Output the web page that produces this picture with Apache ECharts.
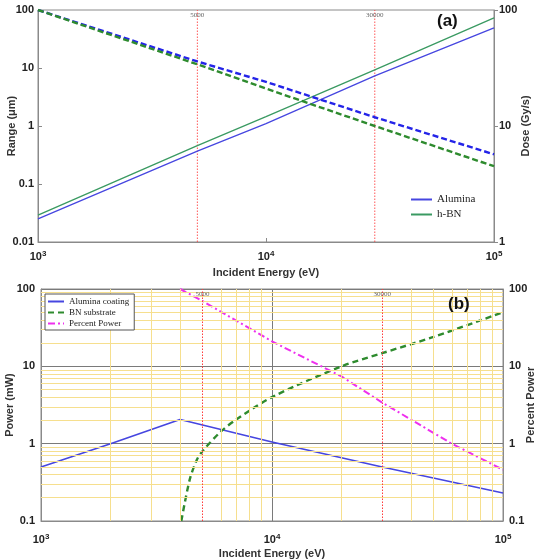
<!DOCTYPE html>
<html>
<head>
<meta charset="utf-8">
<script src="https://cdn.jsdelivr.net/npm/echarts@6/dist/echarts.min.js"></script>
<style>
  html, body { margin: 0; padding: 0; background: #fff; }
  #chart { width: 542px; height: 560px; }
</style>
</head>
<body>
<div id="chart"></div>
<script>
// panel (a): range and dose vs incident energy
const energyA = [1000, 5000, 10000, 30000, 100000]
const rangeAlumina = [0.025, 0.37, 1.1, 7.3, 49]
const rangeHBN = [0.029, 0.46, 1.45, 9.3, 73]
const doseAlumina = [100, 36, 24, 11.9, 5.7]
const doseHBN = [100, 34, 21, 10, 4.5]

// panel (b): power
const energyBlue = [1000, 2000, 4000, 10000, 30000, 100000]
const powerAlumina = [0.5, 1.0, 2.05, 1.05, 0.5, 0.23]
const energyGreen = [4050, 4400, 4730, 5000, 6000, 7000, 10000, 20000, 30000, 50000, 100000]
const powerBN = [0.1, 0.34, 0.62, 0.8, 1.43, 2.05, 4.0, 10, 14.8, 24, 50]
const energyPct = [4000, 5000, 10000, 20000, 30000, 60000, 100000]
const percentPower = [100, 70, 21, 7.4, 3.4, 1.0, 0.46]

// marker energies and minor grid values
const markerEnergies = [5000, 30000]
const minorX = [2000, 3000, 4000, 6000, 7000, 8000, 9000,
  20000, 40000, 50000, 60000, 70000, 80000, 90000]
const minorY = [0.2, 0.3, 0.4, 0.5, 0.6, 0.7, 0.8, 0.9,
  2, 3, 4, 5, 6, 7, 8, 9, 20, 30, 40, 50, 60, 70, 80, 90]

const DOSE_MIN = 1
const DOSE_MAX = 100

const pairs = (xs, ys) => xs.map((x, i) => [x, ys[i]])

const SANS = 'Liberation Sans, Arial, sans-serif'
const SERIF = 'Liberation Serif, Times New Roman, serif'
const AXIS_GRAY = '#8a8a8a'
const MARK_RED = '#ff3b3b'
const MARK_DASH = [1.5, 1.5]

const supLabel = {
  formatter: v => '{a|10}{b|' + Math.round(Math.log10(v)) + '}',
  rich: {
    a: { fontSize: 11, fontWeight: 'bold', color: '#222', fontFamily: SANS },
    b: { fontSize: 8, fontWeight: 'bold', color: '#222', fontFamily: SANS, verticalAlign: 'top', padding: [0, 0, 6, 0] }
  }
}
const numLabel = m => ({
  margin: m,
  fontSize: 11,
  fontWeight: 'bold',
  color: '#222',
  fontFamily: SANS,
  formatter: v => String(+(+v).toPrecision(3))
})
const nameStyle = { fontSize: 11, fontWeight: 'bold', color: '#333', fontFamily: SANS }

const markerLines = lineColor => ({
  silent: true,
  symbol: 'none',
  lineStyle: { color: lineColor, type: MARK_DASH, width: 1 },
  label: {
    show: true,
    position: 'end',
    distance: -9,
    formatter: p => String(p.value),
    fontSize: 7,
    color: '#666',
    fontFamily: SERIF
  },
  data: markerEnergies.map(e => ({ xAxis: e }))
})

// (a) vertical marker lines drawn as plain series on the dose axis
const markerSeriesA = markerEnergies.map(e => ({
  type: 'line', xAxisIndex: 0, yAxisIndex: 1, symbol: 'none', z: 2, silent: true,
  lineStyle: { color: MARK_RED, type: MARK_DASH, width: 1, opacity: 0.85 },
  data: [[e, DOSE_MIN], [e, DOSE_MAX]]
}))

const option = {
  animation: false,
  backgroundColor: '#fff',
  title: [
    { text: '(a)', left: 432, top: 8, textStyle: { fontSize: 17, fontWeight: 'bold', color: '#111', fontFamily: SANS } },
    { text: '(b)', left: 443, top: 291, textStyle: { fontSize: 17, fontWeight: 'bold', color: '#111', fontFamily: SANS } }
  ],
  legend: [
    {
      data: ['Alumina', 'h-BN'],
      left: 405, top: 189, orient: 'vertical',
      itemWidth: 21, itemHeight: 10, itemGap: 4,
      itemStyle: { opacity: 0 },
      textStyle: { fontFamily: SERIF, fontSize: 11, color: '#222' }
    },
    {
      data: ['Alumina coating', 'BN substrate', 'Percent Power'],
      left: 45, top: 294, orient: 'vertical', z: 10,
      itemWidth: 16, itemHeight: 10, itemGap: 2,
      itemStyle: { opacity: 0 },
      padding: [3, 5, 2, 2],
      borderColor: '#555', borderWidth: 1, backgroundColor: '#fff',
      textStyle: { fontFamily: SERIF, fontSize: 9, color: '#222' }
    }
  ],
  grid: [
    { left: 38, top: 10, width: 456, height: 232, outerBoundsMode: 'none', containLabel: false, show: true, borderColor: AXIS_GRAY, borderWidth: 1 },
    { left: 41, top: 289, width: 462, height: 232, outerBoundsMode: 'none', containLabel: false, show: true, borderColor: AXIS_GRAY, borderWidth: 1 }
  ],
  xAxis: [
    {
      type: 'log', logBase: 10, gridIndex: 0, min: 1000, max: 100000,
      axisLine: { lineStyle: { color: AXIS_GRAY } },
      axisTick: { inside: true, length: 4, lineStyle: { color: AXIS_GRAY } },
      splitLine: { show: false },
      axisLabel: { margin: 8, ...supLabel },
      name: 'Incident Energy (eV)', nameLocation: 'middle', nameGap: 25, nameMoveOverlap: false, nameTextStyle: nameStyle
    },
    {
      type: 'log', logBase: 10, gridIndex: 1, min: 1000, max: 100000,
      axisLine: { lineStyle: { color: AXIS_GRAY } },
      axisTick: { show: false },
      splitLine: { show: true, lineStyle: { color: '#7a7a7a', width: 1 } },
      axisLabel: { margin: 12, ...supLabel },
      name: 'Incident Energy (eV)', nameLocation: 'middle', nameGap: 27, nameMoveOverlap: false, nameTextStyle: nameStyle
    }
  ],
  yAxis: [
    {
      type: 'log', logBase: 10, gridIndex: 0, min: 0.01, max: 100, position: 'left',
      axisLine: { show: true, lineStyle: { color: AXIS_GRAY } },
      axisTick: { inside: true, length: 4, lineStyle: { color: AXIS_GRAY } },
      splitLine: { show: false },
      axisLabel: numLabel(4),
      name: 'Range (μm)', nameLocation: 'middle', nameRotate: 90, nameGap: 21, nameMoveOverlap: false, nameTextStyle: nameStyle
    },
    {
      type: 'log', logBase: 10, gridIndex: 0, min: DOSE_MIN, max: DOSE_MAX, position: 'right',
      axisLine: { show: true, lineStyle: { color: AXIS_GRAY } },
      axisTick: { inside: false, length: 4, lineStyle: { color: AXIS_GRAY } },
      splitLine: { show: false },
      axisLabel: numLabel(5),
      name: 'Dose (Gy/s)', nameLocation: 'middle', nameRotate: 90, nameGap: 26, nameMoveOverlap: false, nameTextStyle: nameStyle
    },
    {
      type: 'log', logBase: 10, gridIndex: 1, min: 0.1, max: 100, position: 'left',
      axisLine: { show: true, lineStyle: { color: AXIS_GRAY } },
      axisTick: { show: false },
      splitLine: { show: true, lineStyle: { color: '#7a7a7a', width: 1 } },
      axisLabel: numLabel(6),
      name: 'Power (mW)', nameLocation: 'middle', nameRotate: 90, nameGap: 26, nameMoveOverlap: false, nameTextStyle: nameStyle
    },
    {
      type: 'log', logBase: 10, gridIndex: 1, min: 0.1, max: 100, position: 'right',
      axisLine: { show: true, lineStyle: { color: AXIS_GRAY } },
      axisTick: { show: false },
      splitLine: { show: false },
      axisLabel: numLabel(6),
      name: 'Percent Power', nameLocation: 'middle', nameRotate: 90, nameGap: 22, nameMoveOverlap: false, nameTextStyle: nameStyle
    }
  ],
  series: [
    {
      name: 'Alumina', type: 'line', xAxisIndex: 0, yAxisIndex: 0, symbol: 'none', z: 3,
      lineStyle: { color: '#4646e0', width: 1.3 }, itemStyle: { color: '#4646e0' },
      data: pairs(energyA, rangeAlumina)
    },
    {
      name: 'h-BN', type: 'line', xAxisIndex: 0, yAxisIndex: 0, symbol: 'none', z: 3,
      lineStyle: { color: '#3a9a62', width: 1.3 }, itemStyle: { color: '#3a9a62' },
      data: pairs(energyA, rangeHBN)
    },
    {
      name: 'Alumina dose', type: 'line', xAxisIndex: 0, yAxisIndex: 1, symbol: 'none', z: 3,
      lineStyle: { color: '#2424e8', width: 2.4, type: [6, 3] },
      data: pairs(energyA, doseAlumina)
    },
    {
      name: 'h-BN dose', type: 'line', xAxisIndex: 0, yAxisIndex: 1, symbol: 'none', z: 3,
      lineStyle: { color: '#2e8b2e', width: 2.4, type: [6, 3] },
      data: pairs(energyA, doseHBN)
    },
    // (a) markers: visible lines from series, labels from markLine
    ...markerSeriesA,
    {
      name: 'markers a', type: 'line', xAxisIndex: 0, yAxisIndex: 1, data: [], z: 2,
      markLine: markerLines('rgba(0,0,0,0)')
    },
    // (b) minor grid and markers
    {
      type: 'line', xAxisIndex: 1, yAxisIndex: 2, data: [], z: 1,
      markLine: {
        silent: true, symbol: 'none', label: { show: false },
        lineStyle: { color: '#f6df8e', type: 'solid', width: 1 },
        data: minorX.map(v => ({ xAxis: v })).concat(minorY.map(v => ({ yAxis: v })))
      }
    },
    {
      name: 'markers b', type: 'line', xAxisIndex: 1, yAxisIndex: 2, data: [], z: 2,
      markLine: markerLines(MARK_RED)
    },
    {
      name: 'Alumina coating', type: 'line', xAxisIndex: 1, yAxisIndex: 2, symbol: 'none', z: 3,
      lineStyle: { color: '#4646e0', width: 1.6 }, itemStyle: { color: '#4646e0' },
      data: pairs(energyBlue, powerAlumina)
    },
    {
      name: 'BN substrate', type: 'line', xAxisIndex: 1, yAxisIndex: 2, symbol: 'none', z: 3, smooth: 0.3,
      lineStyle: { color: '#2e8b2e', width: 2.4, type: [6, 4] }, itemStyle: { color: '#2e8b2e' },
      data: pairs(energyGreen, powerBN)
    },
    {
      name: 'Percent Power', type: 'line', xAxisIndex: 1, yAxisIndex: 3, symbol: 'none', z: 3,
      lineStyle: { color: '#ee30ee', width: 2, type: [7, 3, 2, 3] }, itemStyle: { color: '#ee30ee' },
      data: pairs(energyPct, percentPower)
    }
  ]
}

const chart = echarts.init(document.getElementById('chart'))
chart.setOption(option)
</script>
</body>
</html>
